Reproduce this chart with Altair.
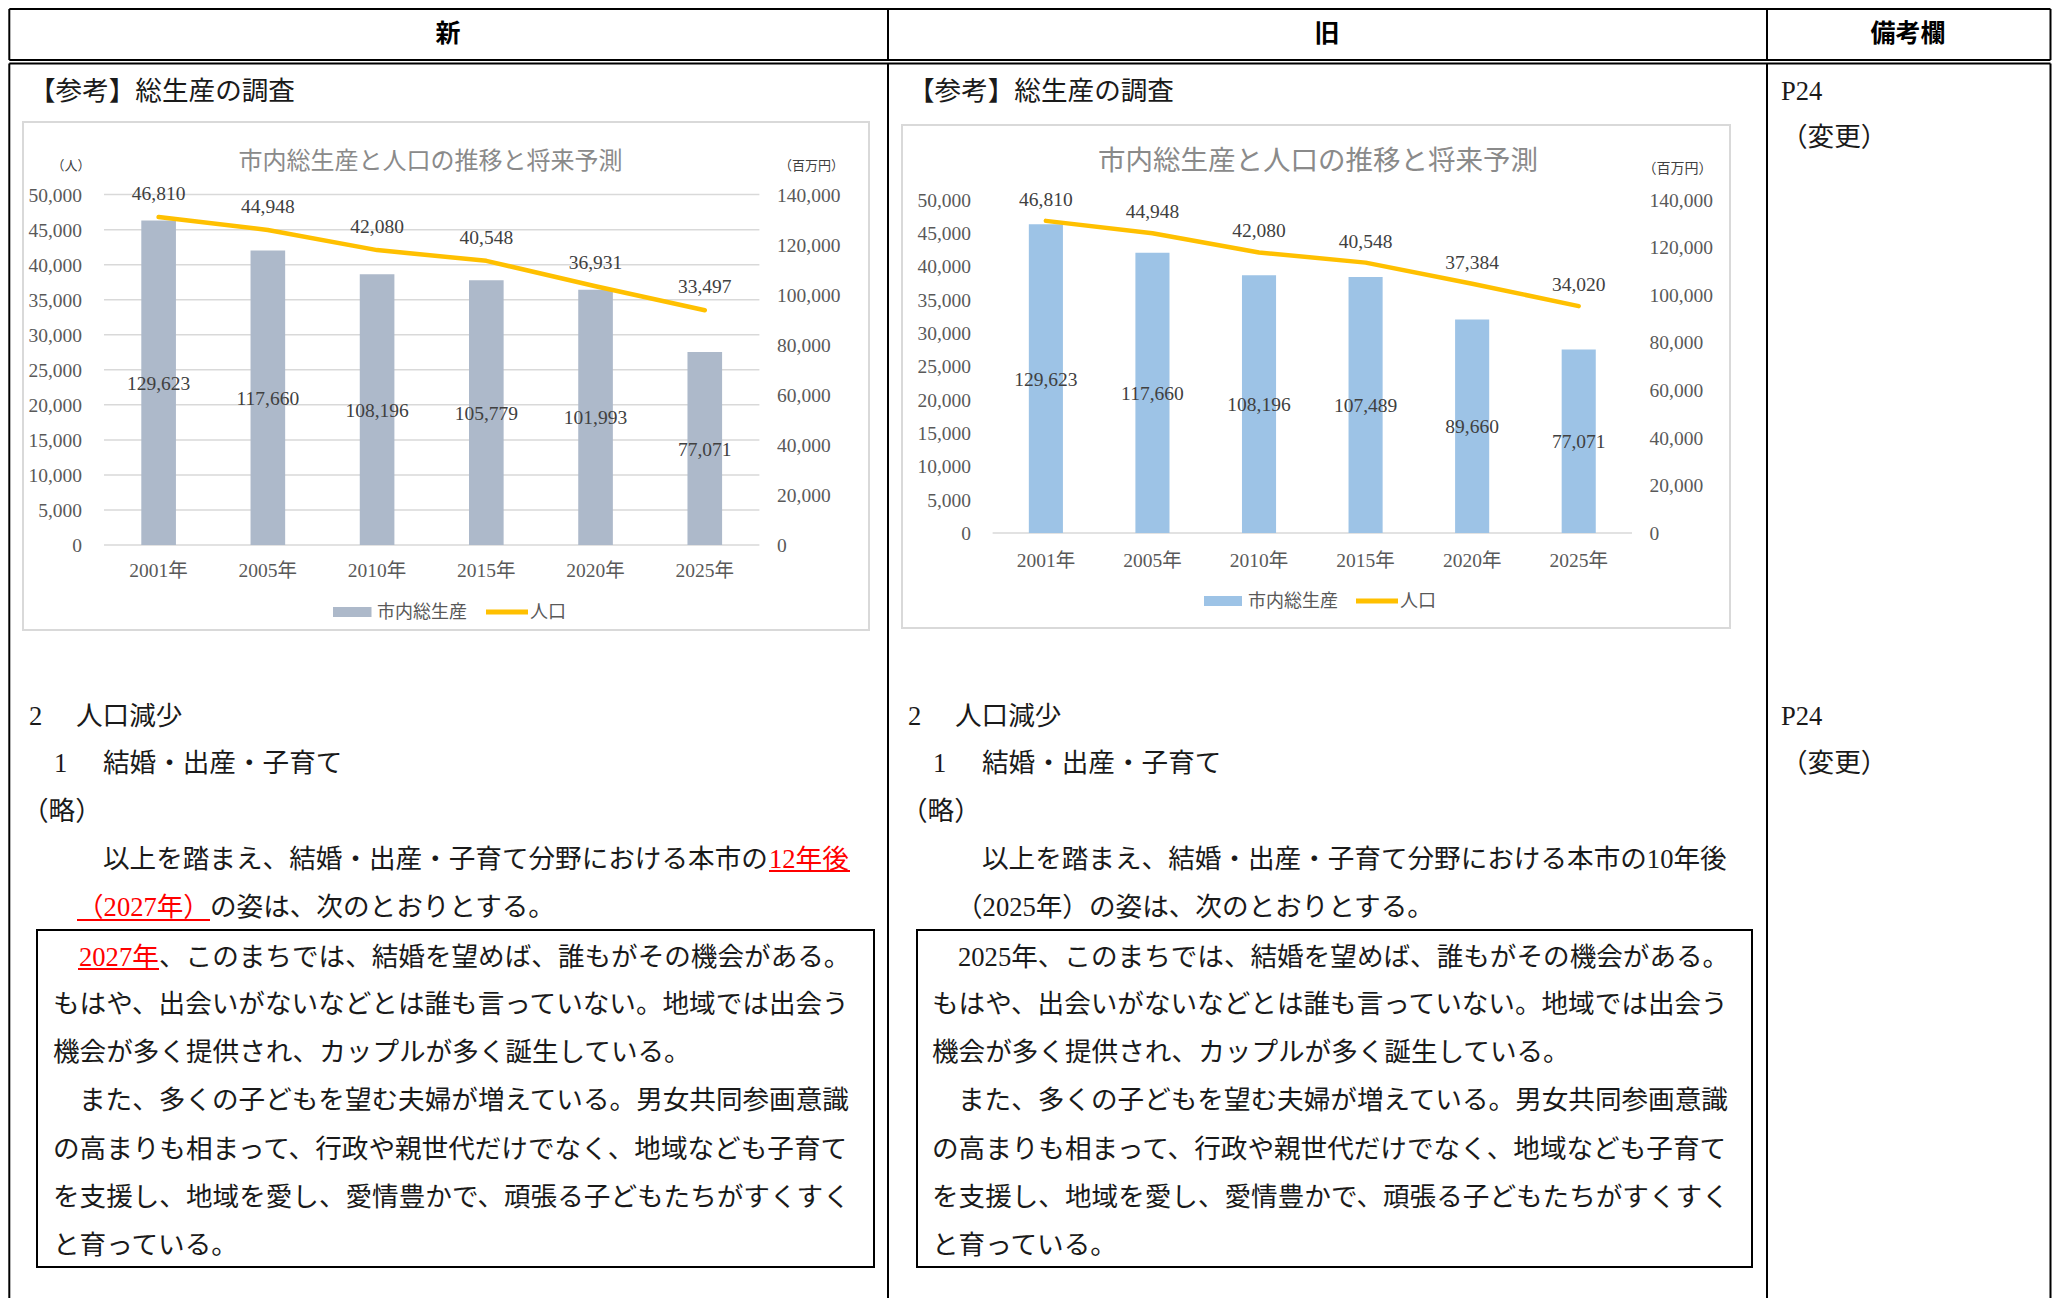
import altair as alt
import pandas as pd

# ---------------- data ----------------
years = ["2001年", "2005年", "2010年", "2015年", "2020年", "2025年"]
new_gdp = [129623, 117660, 108196, 105779, 101993, 77071]
new_pop = [46810, 44948, 42080, 40548, 36931, 33497]
old_gdp = [129623, 117660, 108196, 107489, 89660, 77071]
old_pop = [46810, 44948, 42080, 40548, 37384, 34020]
pop_ticks = [0, 5000, 10000, 15000, 20000, 25000, 30000, 35000, 40000, 45000, 50000]
gdp_ticks = [0, 20000, 40000, 60000, 80000, 100000, 120000, 140000]
chart_title = "市内総生産と人口の推移と将来予測"
legend_labels = ["市内総生産", "人口"]
unit_left = "（人）"
unit_right = "（百万円）"

header_labels = [("新", 448, 33), ("旧", 1327, 33), ("備考欄", 1908, 33)]

new_black = [
    ("【参考】総生産の調査", 29, 89),
    ("2", 29, 714),
    ("人口減少", 76, 714),
    ("1", 54, 761),
    ("結婚・出産・子育て", 103, 761),
    ("（略）", 22, 809),
    ("以上を踏まえ、結婚・出産・子育て分野における本市の", 103, 857),
    ("の姿は、次のとおりとする。", 210, 905),
    ("、このまちでは、結婚を望めば、誰もがその機会がある。", 159, 955),
    ("もはや、出会いがないなどとは誰も言っていない。地域では出会う", 53, 1002),
    ("機会が多く提供され、カップルが多く誕生している。", 53, 1050),
    ("また、多くの子どもを望む夫婦が増えている。男女共同参画意識", 79, 1098),
    ("の高まりも相まって、行政や親世代だけでなく、地域なども子育て", 53, 1147),
    ("を支援し、地域を愛し、愛情豊かで、頑張る子どもたちがすくすく", 53, 1195),
    ("と育っている。", 53, 1243),
]
new_red = [("12年後", 769, 857), ("（2027年）", 77, 905), ("2027年", 79, 955)]
new_underlines = [(769, 850, 871), (77, 210, 920), (78, 159, 969)]

old_black = [
    ("【参考】総生産の調査", 908, 89),
    ("2", 908, 714),
    ("人口減少", 955, 714),
    ("1", 933, 761),
    ("結婚・出産・子育て", 982, 761),
    ("（略）", 901, 809),
    ("以上を踏まえ、結婚・出産・子育て分野における本市の10年後", 982, 857),
    ("（2025年）の姿は、次のとおりとする。", 956, 905),
    ("2025年、このまちでは、結婚を望めば、誰もがその機会がある。", 958, 955),
    ("もはや、出会いがないなどとは誰も言っていない。地域では出会う", 932, 1002),
    ("機会が多く提供され、カップルが多く誕生している。", 932, 1050),
    ("また、多くの子どもを望む夫婦が増えている。男女共同参画意識", 958, 1098),
    ("の高まりも相まって、行政や親世代だけでなく、地域なども子育て", 932, 1147),
    ("を支援し、地域を愛し、愛情豊かで、頑張る子どもたちがすくすく", 932, 1195),
    ("と育っている。", 932, 1243),
]
note_lines = [("P24", 1781, 89), ("（変更）", 1781, 135), ("P24", 1781, 714), ("（変更）", 1781, 761)]

# ---------------- layout ----------------
M = 8
W, H = 2044, 1290
JP = "Noto Sans CJK JP"
SJ = "Liberation Serif, Noto Sans CJK JP"
BODY = 26.6
TEXT_SHIFT = 2.5  # vertical correction for the glyph centre of CJK text

def P(v):
    return v - M

layers = []

def add_text(items, size, color="#111111", font=SJ, weight="normal", align="left", shift=0.0):
    df = pd.DataFrame([(t, P(x), P(y + shift)) for t, x, y in items], columns=["t", "x", "y"])
    layers.append(
        alt.Chart(df).mark_text(align=align, baseline="middle", fontSize=size, font=font,
                                fontWeight=weight, color=color)
        .encode(x=alt.X("x:Q", scale=None, axis=None), y=alt.Y("y:Q", scale=None, axis=None), text="t:N")
    )

def add_segs(segs, color, width):
    df = pd.DataFrame([(P(a), P(b), P(c), P(d)) for a, b, c, d in segs], columns=["x", "y", "x2", "y2"])
    layers.append(
        alt.Chart(df).mark_rule(color=color, strokeWidth=width)
        .encode(x=alt.X("x:Q", scale=None, axis=None), y=alt.Y("y:Q", scale=None, axis=None),
                x2="x2:Q", y2="y2:Q")
    )

def add_rect(x0, y0, x1, y1, stroke, width, fill="white"):
    df = pd.DataFrame({"x": [P(x0)], "y": [P(y0)], "x2": [P(x1)], "y2": [P(y1)]})
    layers.append(
        alt.Chart(df).mark_rect(fill=fill, stroke=stroke, strokeWidth=width)
        .encode(x=alt.X("x:Q", scale=None, axis=None), y=alt.Y("y:Q", scale=None, axis=None),
                x2="x2:Q", y2="y2:Q")
    )

# table frame
L, C1, C2, R = 9.3, 888, 1767, 2050.5
HT, HB, BT, BB = 9, 60, 63.5, 1310
add_segs([
    (L, HT, R, HT), (L, HB, R, HB), (L, HT, L, HB), (C1, HT, C1, HB), (C2, HT, C2, HB), (R, HT, R, HB),
    (L, BT, R, BT), (L, BT, L, BB), (C1, BT, C1, BB), (C2, BT, C2, BB), (R, BT, R, BB),
], "#000000", 2)

add_text(header_labels, 25, color="#000000", font=JP, weight="bold", align="center", shift=1)

# ---------------- charts ----------------
def add_chart(cfg, gdp, pop, bar_color):
    df = pd.DataFrame({"year": years, "gdp": gdp, "pop": pop})
    bx = cfg["box"]
    add_rect(bx[0], bx[1], bx[2], bx[3], "#D9D9D9", 2)

    def xs():
        return alt.Scale(type="band", domain=years, range=[P(cfg["x0"]), P(cfg["x1"])],
                         paddingInner=cfg["pi"], paddingOuter=cfg["pi"] / 2)

    def yl():
        return alt.Scale(domain=[0, 50000], range=[P(cfg["y0"]), P(cfg["y1"])], nice=False, zero=False)

    def yr():
        return alt.Scale(domain=[0, 140000], range=[P(cfg["y0"]), P(cfg["y1"])], nice=False, zero=False)

    # grid
    gvals = pop_ticks if cfg["grid"] == "all" else [0]
    layers.append(
        alt.Chart(pd.DataFrame({"v": gvals})).mark_rule(color="#D9D9D9", strokeWidth=1.5)
        .encode(y=alt.Y("v:Q", scale=yl(), axis=None), x=alt.value(P(cfg["x0"])), x2=alt.value(P(cfg["x1"])))
    )
    # left axis labels
    layers.append(
        alt.Chart(pd.DataFrame({"v": pop_ticks})).mark_text(align="right", baseline="middle", fontSize=19.5,
                                                             font=SJ, color="#595959", dy=1)
        .encode(y=alt.Y("v:Q", scale=yl(), axis=None), x=alt.value(P(cfg["lx"])),
                text=alt.Text("v:Q", format=","))
    )
    # right axis labels
    layers.append(
        alt.Chart(pd.DataFrame({"v": gdp_ticks})).mark_text(align="left", baseline="middle", fontSize=19.5,
                                                             font=SJ, color="#595959", dy=1)
        .encode(y=alt.Y("v:Q", scale=yr(), axis=None), x=alt.value(P(cfg["rx"])),
                text=alt.Text("v:Q", format=","))
    )
    # x labels
    layers.append(
        alt.Chart(df).mark_text(align="center", baseline="middle", fontSize=19.5, font=SJ, color="#595959")
        .encode(x=alt.X("year:N", scale=xs(), axis=None), y=alt.value(P(cfg["xly"] + 3)), text="year:N")
    )
    # bars
    layers.append(
        alt.Chart(df).mark_bar(color=bar_color)
        .encode(x=alt.X("year:N", scale=xs(), axis=None), y=alt.Y("gdp:Q", scale=yr(), axis=None))
    )
    # bar labels
    layers.append(
        alt.Chart(df).transform_calculate(mid="datum.gdp / 2")
        .mark_text(align="center", baseline="middle", fontSize=19.5, font=SJ, color="#404040", dy=1)
        .encode(x=alt.X("year:N", scale=xs(), axis=None), y=alt.Y("mid:Q", scale=yr(), axis=None),
                text=alt.Text("gdp:Q", format=","))
    )
    # line
    layers.append(
        alt.Chart(df).mark_line(color="#FFC000", strokeWidth=4.5, strokeCap="round", strokeJoin="round")
        .encode(x=alt.X("year:N", scale=xs(), axis=None), y=alt.Y("pop:Q", scale=yl(), axis=None))
    )
    # line labels
    layers.append(
        alt.Chart(df).mark_text(align="center", baseline="middle", fontSize=19.5, font=SJ, color="#404040",
                                dy=cfg["dy"])
        .encode(x=alt.X("year:N", scale=xs(), axis=None), y=alt.Y("pop:Q", scale=yl(), axis=None),
                text=alt.Text("pop:Q", format=","))
    )
    # title & units
    tx, ty, ts = cfg["title"]
    add_text([(chart_title, tx, ty)], ts, color="#8a8a8a", font=JP, align="center", shift=1.5)
    units = []
    if cfg["ul"]:
        units.append((unit_left, cfg["ul"][0], cfg["ul"][1]))
    units.append((unit_right, cfg["ur"][0], cfg["ur"][1]))
    add_text(units, cfg["us"], color="#404040", font=JP, align="center", shift=1)
    # legend
    lg = cfg["legend"]
    ly = lg["y"] + 3
    add_rect(lg["r0"], ly - 5, lg["r1"], ly + 5, bar_color, 0, fill=bar_color)
    add_segs([(lg["l0"], ly, lg["l1"], ly)], "#FFC000", 5)
    add_text([(legend_labels[0], lg["t1"], ly), (legend_labels[1], lg["t2"], ly)], 18,
             color="#595959", font=JP, shift=1)


new_cfg = dict(box=(23, 122, 869, 630), x0=104, x1=759.4, y0=545, y1=194.6, pi=0.683, lx=82, rx=777,
               xly=568.4, title=(430.5, 160, 24), ul=(71, 165), ur=(811.5, 165), us=13, dy=-23, grid="all",
               legend=dict(r0=333, r1=371.5, y=609, t1=377, l0=486, l1=528, t2=530))
old_cfg = dict(box=(902, 125, 1730, 628), x0=992.6, x1=1632, y0=533, y1=199.6, pi=0.68, lx=971, rx=1649.5,
               xly=558, title=(1318, 160, 27.5), ul=None, ur=(1677.5, 168), us=14, dy=-21, grid="base",
               legend=dict(r0=1204, r1=1242, y=598, t1=1248, l0=1356, l1=1398, t2=1400))

add_chart(new_cfg, new_gdp, new_pop, "#ADB9CA")
add_chart(old_cfg, old_gdp, old_pop, "#9DC3E6")

# ---------------- body text ----------------
add_rect(37, 930, 874, 1267, "#000000", 2)
add_rect(917, 930, 1752, 1267, "#000000", 2)
add_text(new_black + old_black + note_lines, BODY, color="#1a1a1a", shift=TEXT_SHIFT)
add_text(new_red, BODY, color="#FF0000", shift=TEXT_SHIFT)
add_segs([(a, y, b, y) for a, b, y in new_underlines], "#FF0000", 2)

chart = (
    alt.layer(*layers)
    .resolve_scale(x="independent", y="independent")
    .properties(width=W, height=H, padding=0, autosize=alt.AutoSizeParams(type="none"),
                background="white")
    .configure_view(stroke=None)
)

chart.save("out.html", embed_options={"renderer": "svg", "actions": False})
